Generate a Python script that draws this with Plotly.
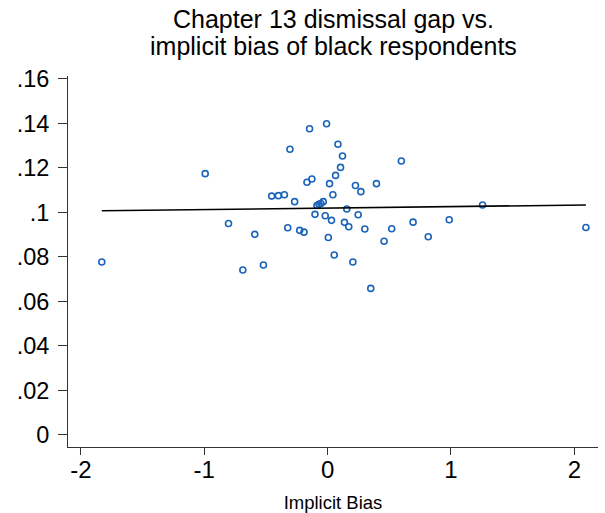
import plotly.graph_objects as go

# Implicit bias (x) and Chapter 13 dismissal gap (y)
bias = [-0.008, -0.146, 0.084, -0.305, 0.121, 0.598, 0.105, 0.065, -0.127, -0.167,
        0.016, 0.226, 0.270, 0.396, -0.453, -0.399, -0.350, 0.043, -0.267, -0.086,
        -0.070, -0.054, -0.035, 0.156, -0.102, -0.019, 0.032, 0.248, 0.137, 0.172,
        0.302, 0.520, 0.693, 0.986, -0.323, -0.226, -0.191, 0.006, 0.458, 0.816,
        -0.590, -0.520, 0.054, 0.205, 0.350, -0.992, -0.803, -1.830, -0.687, 1.256,
        2.094]
gap = [0.1398, 0.1376, 0.1306, 0.1284, 0.1253, 0.1231, 0.1202, 0.1166, 0.1150, 0.1135,
       0.1129, 0.1121, 0.1093, 0.1129, 0.1073, 0.1075, 0.1079, 0.1079, 0.1048, 0.1031,
       0.1036, 0.1040, 0.1048, 0.1015, 0.0991, 0.0985, 0.0964, 0.0989, 0.0955, 0.0935,
       0.0925, 0.0926, 0.0956, 0.0967, 0.0931, 0.0919, 0.0911, 0.0887, 0.0870, 0.0890,
       0.0901, 0.0763, 0.0808, 0.0777, 0.0658, 0.1174, 0.0950, 0.0777, 0.0741, 0.1033,
       0.0932]

# Fitted line endpoints
fit_x = [-1.83, 2.094]
fit_y = [0.1007, 0.1033]

x_ticks = [-2, -1, 0, 1, 2]
x_labels = ["-2", "-1", "0", "1", "2"]
y_ticks = [0, 0.02, 0.04, 0.06, 0.08, 0.10, 0.12, 0.14, 0.16]
y_labels = ["0", ".02", ".04", ".06", ".08", ".1", ".12", ".14", ".16"]

title_lines = ["Chapter 13 dismissal gap vs.", "implicit bias of black respondents"]

FONT = "Liberation Sans, Arial, sans-serif"
W, H = 605, 513
ML, MR, MT, MB = 68, 7, 76, 66
plot_h = H - MT - MB


def py(px):
    """pixel row -> paper y"""
    return (H - MB - px) / plot_h


fig = go.Figure()
fig.add_trace(go.Scatter(
    x=bias, y=gap, mode="markers",
    marker=dict(symbol="circle-open", size=6, color="#1a63b8",
                line=dict(width=1.6, color="#1a63b8")),
    showlegend=False, hoverinfo="x+y"))
fig.add_trace(go.Scatter(
    x=fit_x, y=fit_y, mode="lines",
    line=dict(color="black", width=1.6),
    showlegend=False))

for txt, ypx in zip(title_lines, [19, 46]):
    fig.add_annotation(text=txt, xref="paper", yref="paper", x=0.5, y=py(ypx),
                       xanchor="center", yanchor="middle", showarrow=False,
                       font=dict(size=25, family=FONT, color="black"))

fig.update_layout(
    width=W, height=H,
    margin=dict(l=ML, r=MR, t=MT, b=MB, autoexpand=False),
    paper_bgcolor="white", plot_bgcolor="white",
    font=dict(family=FONT, color="black"),
    xaxis=dict(range=[-2.104, 2.192], tickvals=x_ticks, ticktext=x_labels,
               automargin=False,
               showgrid=False, zeroline=False, showline=True, linecolor="#333333",
               linewidth=1, ticks="outside", ticklen=7, tickcolor="#333333",
               ticklabelstandoff=-6,
               tickfont=dict(size=24),
               title=dict(text="Implicit Bias", font=dict(size=18.5), standoff=17)),
    yaxis=dict(range=[-0.0055, 0.1613], tickvals=y_ticks, ticktext=y_labels,
               automargin=False,
               showgrid=False, zeroline=False, showline=True, linecolor="#333333",
               linewidth=1, ticks="outside", ticklen=9, tickcolor="#333333",
               ticklabelstandoff=4,
               tickfont=dict(size=23.5)),
)

fig.write_html("out.html")
